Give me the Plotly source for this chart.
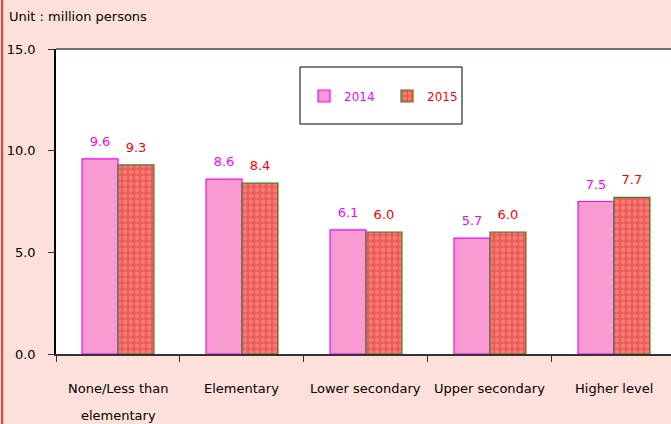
import plotly.graph_objects as go

categories = ["None/Less than elementary", "Elementary", "Lower secondary", "Upper secondary", "Higher level"]
label_line1 = ["None/Less than", "Elementary", "Lower secondary", "Upper secondary", "Higher level"]
label_line2 = ["elementary", "", "", "", ""]
values_2014 = [9.6, 8.6, 6.1, 5.7, 7.5]
values_2015 = [9.3, 8.4, 6.0, 6.0, 7.7]
y_ticks = [0, 5, 10, 15]

FONT = "DejaVu Sans"
BG = "#fde0da"

fig = go.Figure()
fig.add_trace(go.Bar(
    x=categories, y=values_2014, name="<span style='color:#ff00ff'>2014</span>",
    marker=dict(color="#f79bd0", line=dict(color="#ff00ff", width=1.2)),
    offsetgroup="a",
))
fig.add_trace(go.Bar(
    x=categories, y=values_2015, name="<span style='color:#ff0000'>2015</span>",
    marker=dict(color="#f06060", line=dict(color="#3f7f1f", width=1.2),
                pattern=dict(shape=".", fgcolor="#f47a74", bgcolor="#ed5a58",
                             size=6, solidity=0.5, fillmode="replace")),
    offsetgroup="b",
))
for vals, grp, col in [(values_2014, "a", "#ff00ff"), (values_2015, "b", "#ff0000")]:
    fig.add_trace(go.Scatter(
        x=categories, y=vals, mode="markers+text", offsetgroup=grp,
        text=[f"{v:.1f}" for v in vals], textposition="top center",
        marker=dict(size=14, color="rgba(0,0,0,0)"),
        textfont=dict(color=col, size=13, family=FONT),
        showlegend=False, hoverinfo="skip", cliponaxis=False,
    ))

annotations = [dict(xref="paper", yref="paper", x=-49/615, y=1 + 33/305,
                    xanchor="left", yanchor="middle", showarrow=False,
                    text="Unit : million persons",
                    font=dict(family=FONT, size=13, color="#000000"))]
for c, l1, l2 in zip(categories, label_line1, label_line2):
    annotations.append(dict(x=c, xref="x", yref="paper", y=-35/305, yanchor="middle",
                            showarrow=False, text=l1,
                            font=dict(family=FONT, size=13, color="#000000")))
    if l2:
        annotations.append(dict(x=c, xref="x", yref="paper", y=-61/305, yanchor="middle",
                                showarrow=False, text=l2,
                                font=dict(family=FONT, size=13, color="#000000")))

shapes = [
    dict(type="rect", xref="paper", yref="paper",
         x0=(300-56)/615, x1=(462-56)/615, y0=1-(124-49)/305, y1=1-(67-49)/305,
         line=dict(color="#000000", width=1), fillcolor="#ffffff", layer="below"),
    dict(type="line", xref="paper", yref="paper", x0=0, x1=1.02, y0=1, y1=1,
         line=dict(color="#444444", width=1.5)),
    dict(type="line", xref="paper", yref="paper", x0=-54/615, x1=-54/615,
         y0=-70/305, y1=1 + 49/305, line=dict(color="#ff0000", width=1.5)),
]

fig.update_layout(
    width=671, height=424,
    margin=dict(l=56, r=0, t=49, b=70),
    paper_bgcolor=BG, plot_bgcolor="#ffffff",
    barmode="group", bargap=0.42, bargroupgap=0, scattermode="group", scattergap=0.42,
    font=dict(family=FONT, size=13, color="#000000"),
    showlegend=True,
    legend=dict(orientation="h", x=(304-56)/615, y=1-(96-49)/305, xanchor="left", yanchor="middle",
                bgcolor="rgba(0,0,0,0)", borderwidth=0,
                font=dict(family=FONT, size=12), itemwidth=30,
                entrywidth=38),
    xaxis=dict(showticklabels=False, ticks="outside", ticklen=6, tickson="boundaries",
               tickcolor="#333333", showline=True, linecolor="#333333", linewidth=1.5,
               range=[-0.5, 4.46], showgrid=False, zeroline=False),
    yaxis=dict(range=[0, 15], tickvals=y_ticks, tickformat=".1f", ticks="outside", ticklen=6,
               tickcolor="#333333", showline=True, linecolor="#000000", linewidth=1.5,
               showgrid=False, zeroline=False, ticklabelstandoff=10,
               tickfont=dict(family=FONT, size=13)),
    annotations=annotations, shapes=shapes,
)

fig.write_html("out.html", config={"displayModeBar": False},
               post_script="document.body.style.margin='0';document.body.style.overflow='hidden';")
